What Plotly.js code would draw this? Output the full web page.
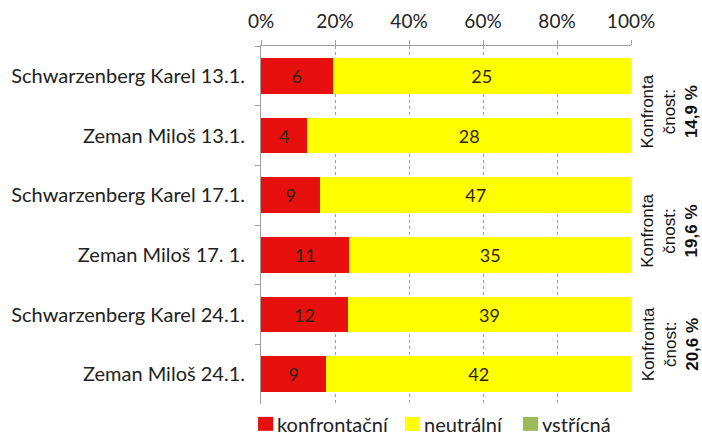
<!DOCTYPE html>
<html><head><meta charset="utf-8">
<script src="https://cdn.plot.ly/plotly-3.0.1.min.js"></script>
<style>body{margin:0;background:#fff}#c{width:702px;height:439px}</style>
</head><body><div id="c"></div>
<script>
const categories = ["Schwarzenberg Karel 13.1.","Zeman Miloš 13.1.","Schwarzenberg Karel 17.1.","Zeman Miloš 17. 1.","Schwarzenberg Karel 24.1.","Zeman Miloš 24.1."];
const konfrontacni = [6,4,9,11,12,9];
const neutralni = [25,28,47,35,39,42];
const vstricna = [0,0,0,0,0,0];
const seriesNames = ["konfrontační","neutrální","vstřícná"];
const seriesColors = ['#e80f0f','#ffff00','#9bbb59'];
const sideLabels = ["14,9 %","19,6 %","20,6 %"];
const sideLabelPos = [0.6,2.6,4.5];
const xTicks = [0,20,40,60,80,100];
const xTickText = ["0%","20%","40%","60%","80%","100%"];

const font = "Lato, 'Open Sans', sans-serif";
function tr(vals,name,color){
  return {type:'bar',orientation:'h',y:categories,x:vals,name:name,
    marker:{color:color},width:0.6,
    text:vals.map(v=>v?String(v):''),textposition:'inside',insidetextanchor:'middle',
    textfont:{family:font,size:18,color:'#2e2408'},hoverinfo:'none'};
}
const data=[tr(konfrontacni,seriesNames[0],seriesColors[0]),tr(neutralni,seriesNames[1],seriesColors[1]),tr(vstricna,seriesNames[2],seriesColors[2])];
const annotations = sideLabels.map((s,i)=>({xref:'paper',yref:'y',x:1.105,y:sideLabelPos[i],
  xanchor:'center',yanchor:'middle',
  text:'Konfronta<br>čnost:<br><b>'+s+'</b>',textangle:-90,showarrow:false,
  font:{family:'Liberation Sans, Arial, sans-serif',size:17,color:'#111'},align:'center'}));
// manual legend (paper coordinates)
const legSquareX = [-0.008,0.389,0.708];
const legSize = 0.041;
const shapes = [];
seriesNames.forEach((n,i)=>{
  shapes.push({type:'rect',xref:'paper',yref:'paper',x0:legSquareX[i],x1:legSquareX[i]+legSize,
    y0:-0.075,y1:-0.036,fillcolor:seriesColors[i],line:{width:0}});
  annotations.push({xref:'paper',yref:'paper',x:legSquareX[i]+legSize+0.005,y:-0.056,
    xanchor:'left',yanchor:'middle',text:n,showarrow:false,font:{family:font,size:20,color:'#222'}});
});
const layout={width:702,height:439,margin:{l:261,r:71,t:46,b:35},
  paper_bgcolor:'#fff',plot_bgcolor:'#fff',barmode:'stack',barnorm:'percent',
  font:{family:font,size:20,color:'#222'},
  xaxis:{side:'top',range:[0,100],tickvals:xTicks,ticktext:xTickText,showgrid:true,
    gridcolor:'#a0a0a0',griddash:'3px,3px',gridwidth:1,showline:true,linecolor:'#a0a0a0',
    ticks:'outside',ticklen:5,tickcolor:'#a0a0a0',zeroline:false,tickfont:{size:19,color:'#222'},
    ticklabelstandoff:4,fixedrange:true},
  yaxis:{type:'category',autorange:'reversed',showline:true,linecolor:'#a0a0a0',
    ticks:'outside',tickson:'boundaries',ticklen:5,tickcolor:'#a0a0a0',showgrid:false,
    tickfont:{size:20,color:'#222'},ticklabelstandoff:11},
  showlegend:false,
  shapes:shapes,
  annotations:annotations};
Plotly.newPlot('c',data,layout,{displayModeBar:false,staticPlot:true});
</script></body></html>
